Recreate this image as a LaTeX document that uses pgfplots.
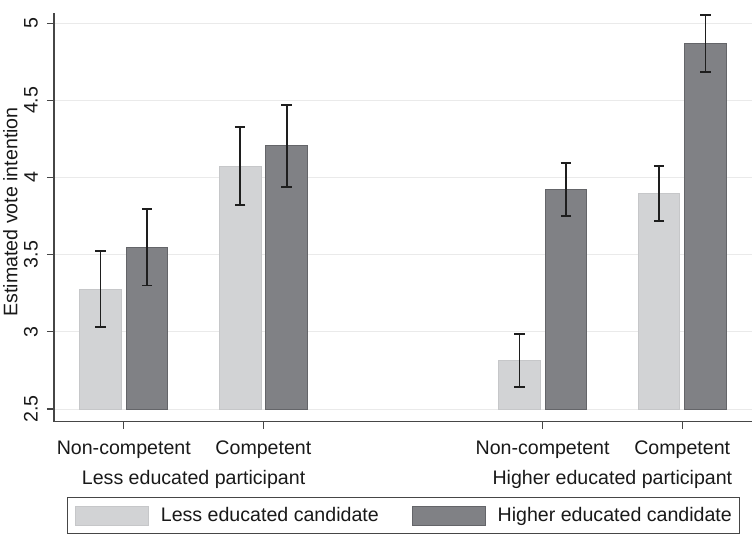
\documentclass[border=0pt]{standalone}
\usepackage{pgfplots}
\pgfplotsset{compat=1.18}
\usepackage{pgfplotstable}
\usepackage{fontspec}
\setmainfont{Liberation Sans}
\definecolor{lightbar}{RGB}{210,211,213}
\definecolor{lightedge}{RGB}{198,199,201}
\definecolor{darkbar}{RGB}{128,129,133}
\definecolor{darkedge}{RGB}{100,101,105}
\definecolor{errc}{RGB}{30,30,30}
\definecolor{gridc}{RGB}{234,234,234}
\definecolor{axisc}{RGB}{70,70,70}
\definecolor{txt}{RGB}{25,25,25}
\pgfplotsset{myleg/.style={legend image code/.code={\draw[##1] (0pt,-9.5pt) rectangle (72.7pt,9.5pt);}}}

\pgfplotstableread{
x y e
0 3.277 0.248
1 4.073 0.252
3 2.814 0.170
4 3.896 0.177
}\lowtab
\pgfplotstableread{
x y e
0 3.549 0.248
1 4.205 0.264
3 3.922 0.171
4 4.868 0.183
}\hightab

\begin{document}
\begin{tikzpicture}[font=\fontsize{19.6}{23.5}\selectfont, text=txt]
\path[use as bounding box] (-54pt,-115.3pt) rectangle (701pt,421.7pt);
\begin{axis}[
 at={(0pt,0pt)}, anchor=south west,
 scale only axis, width=698pt, height=409pt,
 xmin=-0.5, xmax=4.5, ymin=2.418, ymax=5.068,
 y coord trafo/.code={\pgfmathparse{#1-2.5}},
 y coord inv trafo/.code={\pgfmathparse{#1+2.5}},
 axis x line*=bottom, axis y line*=left,
 axis line style={axisc, line width=1.1pt},
 xtick={0,1,3,4}, xticklabels={Non-competent,Competent,Non-competent,Competent},
 ytick={2.5,3,3.5,4,4.5,5}, yticklabels={2.5,3,3.5,4,4.5,5},
 tick align=outside, major tick length=7pt, tick style={axisc, line width=1.1pt},
 ymajorgrids, grid style={gridc, line width=1pt},
 yticklabel style={rotate=90, anchor=south, inner sep=0pt},
 yticklabel shift=9pt,
 xticklabel style={anchor=base, inner sep=0pt, yshift=-26.3pt},
 extra x ticks={0.5,3.5},
 extra x tick labels={Less educated participant, Higher educated participant},
 extra x tick style={major tick length=0pt, xticklabel style={yshift=-37pt}},
 ylabel={Estimated vote intention},
 ylabel style={at={(axis description cs:-0.0731,0.513)}, anchor=north, inner sep=0pt},
 legend style={at={(axis description cs:0.5007,0)}, anchor=north, yshift=-75.3pt,
   draw=axisc, line width=1.1pt, legend columns=2, inner xsep=8pt, inner ysep=8pt,
   nodes={inner sep=0pt, text=txt},
   /tikz/every odd column/.style={column sep=12.3pt},
   /tikz/column 2/.style={column sep=33pt}},
]
\addplot[ybar, bar width=41.5pt, bar shift=0pt, fill=lightbar, draw=lightedge, line width=0.8pt,
  myleg,
  error bars/.cd, y dir=both, y explicit, error mark=-,
  error bar style={errc, line width=1.8pt},
  error mark options={rotate=90, errc, line width=1.8pt, mark size=5.2pt}]
  table[x expr=\thisrow{x}-0.1662, y=y, y error=e] {\lowtab};
\addlegendentry{Less educated candidate}
\addplot[ybar, bar width=41.5pt, bar shift=0pt, fill=darkbar, draw=darkedge, line width=0.8pt,
  myleg,
  error bars/.cd, y dir=both, y explicit, error mark=-,
  error bar style={errc, line width=1.8pt},
  error mark options={rotate=90, errc, line width=1.8pt, mark size=5.2pt}]
  table[x expr=\thisrow{x}+0.1662, y=y, y error=e] {\hightab};
\addlegendentry{Higher educated candidate}
\end{axis}
\end{tikzpicture}
\end{document}
